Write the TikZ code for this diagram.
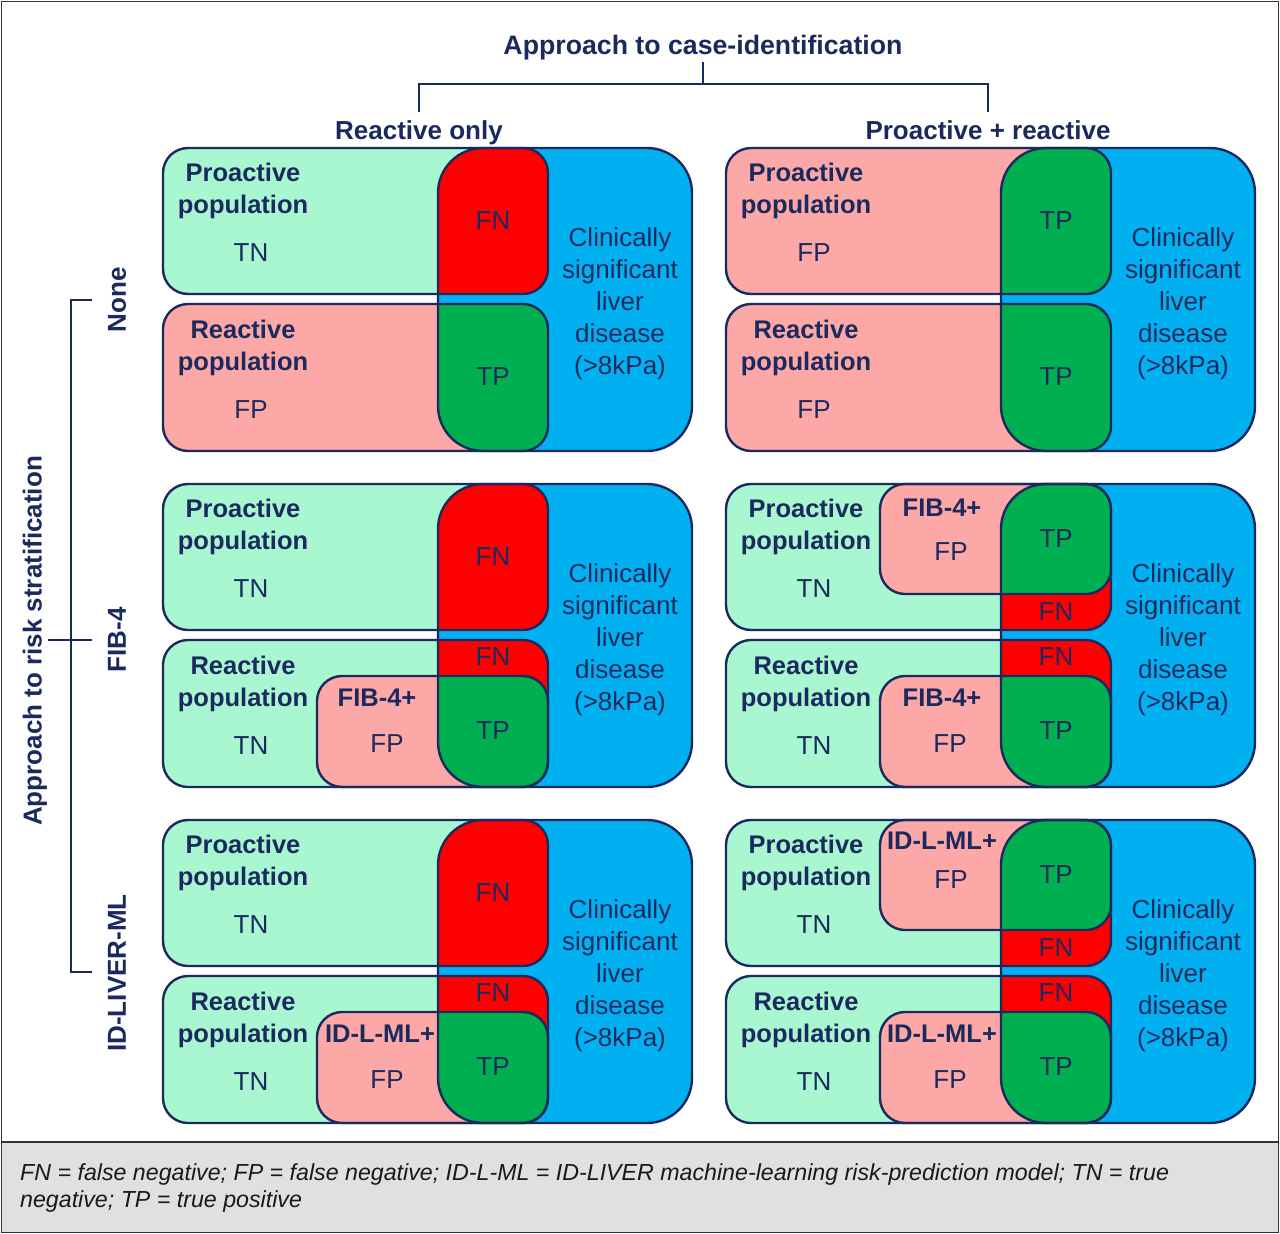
\documentclass[tikz,border=0pt]{standalone}
\usepackage{fontspec}
\setmainfont{Liberation Sans}
\definecolor{navy}{HTML}{1B2A5E}
\definecolor{lgreen}{HTML}{A9F7D0}
\definecolor{pinkc}{HTML}{FCA8A6}
\definecolor{redc}{HTML}{FF0000}
\definecolor{dgreen}{HTML}{00B050}
\definecolor{bluec}{HTML}{00B0F0}
\definecolor{footgray}{HTML}{E0E0E0}
\definecolor{framec}{HTML}{333333}
% #1 upper fill, #2 lower fill, #3 upper intersection, #4 lower intersection, #5 upper sub, #6 lower sub
\newcommand\drawpanel[6]{%
  \fill[bluec,rounded corners=45] (438,148) rectangle (692,451);
  \fill[#1,rounded corners=25] (163,148) rectangle (548,294);
  \fill[#2,rounded corners=25] (163,304) rectangle (548,451);
  \ifnum#5=1 \fill[pinkc,rounded corners=25] (317,148) rectangle (548,258);\fi
  \ifnum#6=1 \fill[pinkc,rounded corners=25] (317,340) rectangle (548,451);\fi
  \begin{scope}
    \clip[rounded corners=45] (438,148) rectangle (692,451);
    \fill[#3,rounded corners=25] (163,148) rectangle (548,294);
    \fill[#4,rounded corners=25] (163,304) rectangle (548,451);
    \ifnum#5=1 \fill[dgreen,rounded corners=25] (317,148) rectangle (548,258);\fi
    \ifnum#6=1 \fill[dgreen,rounded corners=25] (317,340) rectangle (548,451);\fi
  \end{scope}
  \draw[outl,rounded corners=45] (438,148) rectangle (692,451);
  \draw[outl,rounded corners=25] (163,148) rectangle (548,294);
  \draw[outl,rounded corners=25] (163,304) rectangle (548,451);
  \ifnum#5=1 \draw[outl,rounded corners=25] (317,148) rectangle (548,258);\fi
  \ifnum#6=1 \draw[outl,rounded corners=25] (317,340) rectangle (548,451);\fi
}
% #1 name prefix, #2 upper label, #3 lower label
\newcommand\paneltext[3]{%
  \node[btxt] (#1pt) at (243,190.5) {Proactive\\population};
  \node[txt] (#1pl) at (251,253) {#2};
  \node[btxt] (#1rt) at (243,347.5) {Reactive\\population};
  \node[txt] (#1rl) at (251,410) {#3};
  \node[txt] (#1cs) at (620,304) {Clinically\\significant\\liver\\disease\\(>8kPa)};
}
\begin{document}
\begin{tikzpicture}[x=1pt,y=-1pt,
  outl/.style={draw=navy,line width=2.4pt},
  brk/.style={draw=navy,line width=2pt},
  txt/.style={inner sep=0pt,text=navy,align=center,font=\fontsize{26}{32}\selectfont},
  btxt/.style={inner sep=0pt,text=navy,align=center,font=\fontsize{25.5}{32}\selectfont\bfseries},
  hd/.style={inner sep=0pt,text=navy,align=center,font=\fontsize{26}{32}\selectfont\bfseries},
  ]
\useasboundingbox (0,0) rectangle (1280,1234);
\fill[white] (0,0) rectangle (1280,1234);
% footer
\fill[footgray] (1.5,1142) rectangle (1278.5,1232.5);
\draw[framec,line width=1.5pt] (1.5,1142) -- (1278.5,1142);
\draw[framec,line width=1.5pt] (1.5,1.5) rectangle (1278.5,1232.5);
\node[anchor=west,inner sep=0pt,align=left,text=black!90,font=\fontsize{23.2}{27}\selectfont\itshape] (foot) at (20,1187.5)
  {FN = false negative; FP = false negative; ID-L-ML = ID-LIVER machine-learning risk-prediction model; TN = true\\negative; TP = true positive};

% headings
\node[hd,font=\fontsize{26.7}{32}\selectfont\bfseries] (title) at (703,47.5) {Approach to case-identification};
\node[hd,anchor=base] (colA) at (419,139.5) {Reactive only};
\node[hd,anchor=base] (colB) at (988,139.5) {Proactive + reactive};
\coordinate (tTop) at (703,62);
\coordinate (tMid) at (703,84);
\coordinate (tA) at (419,84);
\coordinate (tB) at (988,84);
\coordinate (tAe) at (419,112);
\coordinate (tBe) at (988,112);
\draw[brk] (tTop) -- (tMid);
\draw[brk] (tAe) -- (tA) -- (tB) -- (tBe);

% left axis
\node[hd,rotate=90] (axis) at (35,641) {Approach to risk stratification};
\node[hd,rotate=90] (rNone) at (117,300) {None};
\node[hd,rotate=90] (rFib) at (117,640) {FIB-4};
\node[hd,rotate=90] (rId) at (117,973) {ID-LIVER-ML};
\coordinate (lT1) at (92,300);
\coordinate (lT2) at (71,300);
\coordinate (lB2) at (71,972);
\coordinate (lB1) at (92,972);
\coordinate (lM1) at (48,640);
\coordinate (lM2) at (92,640);
\draw[brk] (lT1) -- (lT2) -- (lB2) -- (lB1);
\draw[brk] (lM1) -- (lM2);

% Row 1, left
\begin{scope}
  \drawpanel{lgreen}{pinkc}{redc}{dgreen}{0}{0}
  \paneltext{a}{TN}{FP}
  \node[txt] (afn) at (493,221) {FN};
  \node[txt] (atp) at (493,377) {TP};
\end{scope}
% Row 1, right
\begin{scope}[shift={(563,0)}]
  \drawpanel{pinkc}{pinkc}{dgreen}{dgreen}{0}{0}
  \paneltext{b}{FP}{FP}
  \node[txt] (btp) at (493,221) {TP};
  \node[txt] (btq) at (493,377) {TP};
\end{scope}
% Row 2, left
\begin{scope}[shift={(0,336)}]
  \drawpanel{lgreen}{lgreen}{redc}{redc}{0}{1}
  \paneltext{c}{TN}{TN}
  \node[txt] (cfn) at (493,221) {FN};
  \node[txt] (cfm) at (493,321) {FN};
  \node[txt] (ctp) at (493,395) {TP};
  \node[btxt] (csub) at (377,362) {FIB-4+};
  \node[txt] (cfp) at (387,408) {FP};
\end{scope}
% Row 2, right
\begin{scope}[shift={(563,336)}]
  \drawpanel{lgreen}{lgreen}{redc}{redc}{1}{1}
  \paneltext{d}{TN}{TN}
  \node[btxt] (dsubu) at (379,172) {FIB-4+};
  \node[txt] (dfpu) at (388,216) {FP};
  \node[txt] (dtpu) at (493,203) {TP};
  \node[txt] (dfnu) at (493,276) {FN};
  \node[txt] (dfnl) at (493,321) {FN};
  \node[txt] (dtpl) at (493,395) {TP};
  \node[btxt] (dsubl) at (379,362) {FIB-4+};
  \node[txt] (dfpl) at (387,408) {FP};
\end{scope}
% Row 3, left
\begin{scope}[shift={(0,672)}]
  \drawpanel{lgreen}{lgreen}{redc}{redc}{0}{1}
  \paneltext{e}{TN}{TN}
  \node[txt] (efn) at (493,221) {FN};
  \node[txt] (efm) at (493,321) {FN};
  \node[txt] (etp) at (493,395) {TP};
  \node[btxt] (esub) at (380,362) {ID-L-ML+};
  \node[txt] (efp) at (387,408) {FP};
\end{scope}
% Row 3, right
\begin{scope}[shift={(563,672)}]
  \drawpanel{lgreen}{lgreen}{redc}{redc}{1}{1}
  \paneltext{f}{TN}{TN}
  \node[btxt] (fsubu) at (379,169) {ID-L-ML+};
  \node[txt] (ffpu) at (388,208) {FP};
  \node[txt] (ftpu) at (493,203) {TP};
  \node[txt] (ffnu) at (493,276) {FN};
  \node[txt] (ffnl) at (493,321) {FN};
  \node[txt] (ftpl) at (493,395) {TP};
  \node[btxt] (fsubl) at (379,362) {ID-L-ML+};
  \node[txt] (ffpl) at (387,408) {FP};
\end{scope}
\end{tikzpicture}
\end{document}
